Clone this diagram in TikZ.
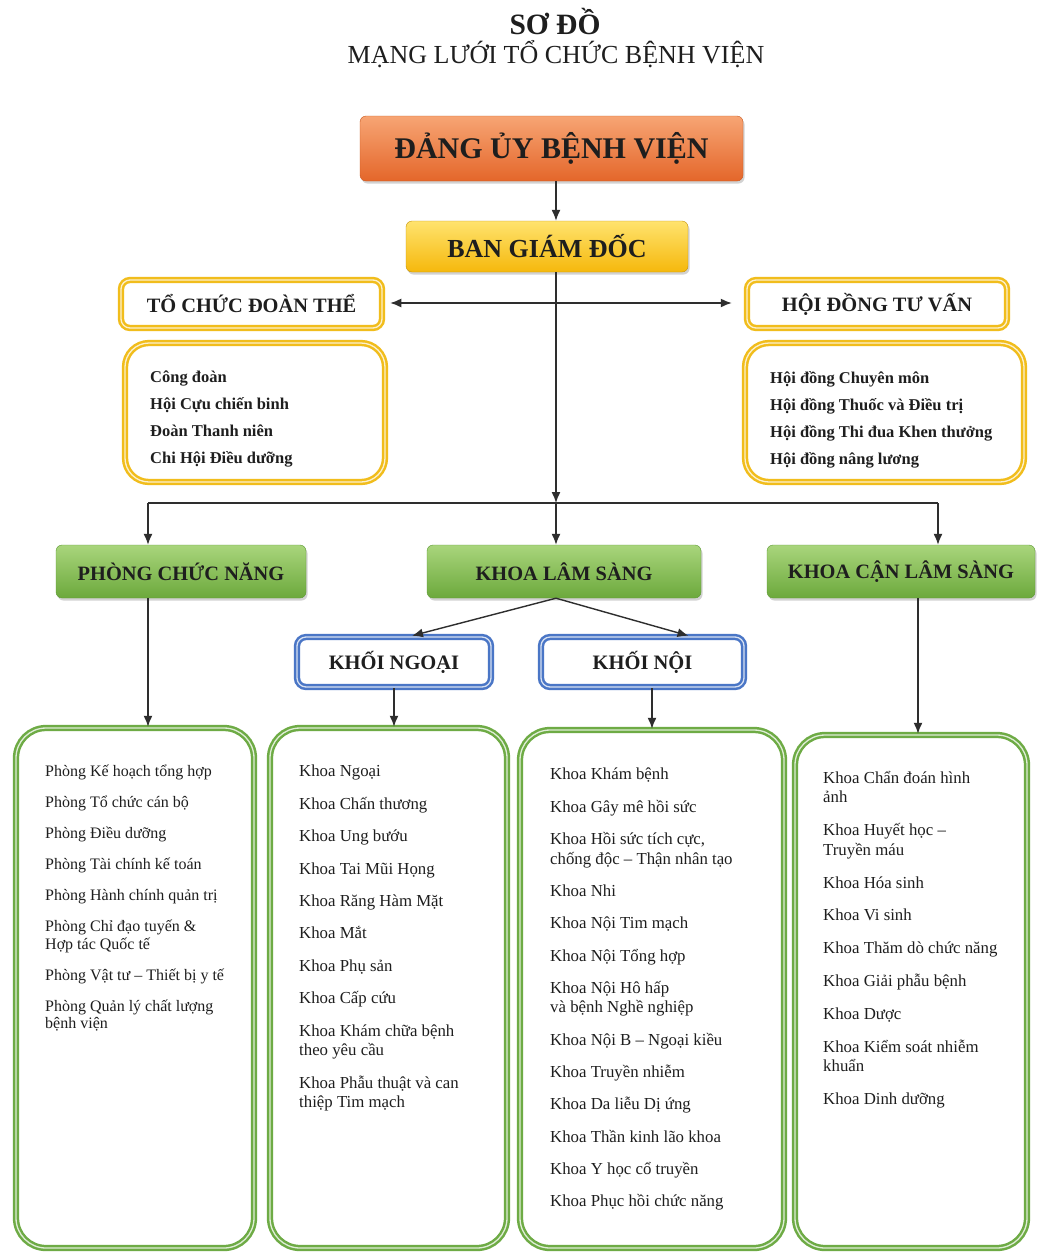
\documentclass[tikz,border=0pt]{standalone}
\usepackage{fontspec}
\setmainfont{Liberation Serif}
\usepackage{tikz}
\usetikzlibrary{arrows.meta,calc,positioning,shadows}
\definecolor{orangetop}{HTML}{F7A574}
\definecolor{orangebot}{HTML}{E4662A}
\definecolor{orangeline}{HTML}{C9581F}
\definecolor{goldtop}{HTML}{FFE36E}
\definecolor{goldbot}{HTML}{F5B80C}
\definecolor{goldline}{HTML}{F1BD1C}
\definecolor{greentop}{HTML}{A9D57C}
\definecolor{greenbot}{HTML}{6CA93C}
\definecolor{greenline}{HTML}{5E9A36}
\definecolor{greenring}{HTML}{6EAB45}
\definecolor{bluering}{HTML}{4A76C6}
\definecolor{ink}{HTML}{1E1E1E}
\definecolor{wire}{HTML}{2E2E2E}
\setlength{\lineskiplimit}{-20pt}

\tikzset{
  box/.style={rounded corners=6pt, align=center, inner sep=0pt, text=ink},
  shadowed/.style={drop shadow={opacity=0.35,shadow xshift=1.5pt,shadow yshift=-2.5pt}},
  partybox/.style={box, shadowed, draw=orangeline, top color=orangetop, bottom color=orangebot,
    font=\bfseries\fontsize{30}{32}\selectfont},
  boardbox/.style={box, shadowed, draw=goldbot!80!black, top color=goldtop, bottom color=goldbot,
    font=\bfseries\fontsize{26}{28}\selectfont},
  greenbox/.style={box, shadowed, draw=greenline, top color=greentop, bottom color=greenbot,
    font=\bfseries\fontsize{20.4}{22}\selectfont},
  ring/.style={box, fill=white, draw=#1, line width=2.5pt, double=#1!22!white, double distance=1.3pt},
  goldhead/.style={ring=goldline, rounded corners=9pt, font=\bfseries\fontsize{20.4}{22}\selectfont},
  goldlist/.style={ring=goldline, rounded corners=24pt},
  bluehead/.style={ring=bluering, rounded corners=9pt, font=\bfseries\fontsize{20.5}{22}\selectfont},
  greenlist/.style={ring=greenring, rounded corners=30pt},
  % first baseline sits 16pt below the anchor
  listtext/.style={anchor=north west, inner sep=0pt, align=left, text=ink,
    execute at begin node=\rule{0pt}{16pt}, font=\fontsize{16.8}{19.6}\selectfont},
  boldlist/.style={anchor=north west, inner sep=0pt, align=left, text=ink,
    execute at begin node=\rule{0pt}{16pt}, font=\bfseries\fontsize{16.5}{27}\selectfont},
  arr/.style={draw=wire, line width=1.4pt, -{Latex[length=11pt,width=9pt]}},
  wireline/.style={draw=wire, line width=1.4pt}
}

\begin{document}
\begin{tikzpicture}[x=1pt,y=-1pt]
  \useasboundingbox[fill=white] (0,0) rectangle (1037,1254);

  % title
  \node[text=ink, font=\bfseries\fontsize{29.5}{31}\selectfont] (title) at (555,22) {SƠ ĐỒ};
  \node[text=ink, font=\fontsize{26}{28}\selectfont] (subtitle) at (556,54) {MẠNG LƯỚI TỔ CHỨC BỆNH VIỆN};

  % top levels
  \node[partybox, minimum width=383, minimum height=65] (party) at (551.5,148.5) {ĐẢNG ỦY BỆNH VIỆN};
  \node[boardbox, minimum width=282, minimum height=51] (bgd) at (547,246.5) {BAN GIÁM ĐỐC};

  % unions and councils
  \node[goldhead, minimum width=261, minimum height=48] (tcdt) at (251.5,304) {TỔ CHỨC ĐOÀN THỂ};
  \node[goldhead, minimum width=260, minimum height=48] (hdtv) at (877,304) {HỘI ĐỒNG TƯ VẤN};
  \node[goldlist, minimum width=260, minimum height=139] (tcdtlist) at (255,412.5) {};
  \node[goldlist, minimum width=279, minimum height=139] (hdtvlist) at (884.5,412.5) {};
  \node[boldlist] (tcdttext) at (150,371) {Công đoàn\\Hội Cựu chiến binh\\Đoàn Thanh niên\\Chi Hội Điều dưỡng};
  \node[boldlist] (hdtvtext) at (770,371) {Hội đồng Chuyên môn\\Hội đồng Thuốc và Điều trị\\Hội đồng Thi đua Khen thưởng\\Hội đồng nâng lương};

  % blocks
  \node[greenbox, minimum width=250, minimum height=53] (pcn) at (181,571.5) {PHÒNG CHỨC NĂNG};
  \node[greenbox, minimum width=274, minimum height=53] (kls) at (564,571.5) {KHOA LÂM SÀNG};
  \node[greenbox, minimum width=268, minimum height=53] (kcls) at (901,571.5) {KHOA CẬN LÂM SÀNG};
  \node[bluehead, minimum width=194, minimum height=50] (kngoai) at (394,662) {KHỐI NGOẠI};
  \node[bluehead, minimum width=203, minimum height=50] (knoi) at (642.5,662) {KHỐI NỘI};

  % department lists
  \node[greenlist, minimum width=238, minimum height=520] (list1) at (135,988) {};
  \node[greenlist, minimum width=237, minimum height=520] (list2) at (388.5,988) {};
  \node[greenlist, minimum width=264, minimum height=518] (list3) at (652,989) {};
  \node[greenlist, minimum width=232, minimum height=513] (list4) at (911,991.5) {};

  \node[listtext, font=\fontsize{16}{17.5}\selectfont] (text1) at (45,765) {Phòng Kế hoạch tổng hợp\\[13.5pt]Phòng Tổ chức cán bộ\\[13.5pt]Phòng Điều dưỡng\\[13.5pt]Phòng Tài chính kế toán\\[13.5pt]Phòng Hành chính quản trị\\[13.5pt]Phòng Chỉ đạo tuyến \&\\Hợp tác Quốc tế\\[13.5pt]Phòng Vật tư – Thiết bị y tế\\[13.5pt]Phòng Quản lý chất lượng\\bệnh viện};
  \node[listtext] (text2) at (299,765) {Khoa Ngoại\\[12.8pt]Khoa Chấn thương\\[12.8pt]Khoa Ung bướu\\[12.8pt]Khoa Tai Mũi Họng\\[12.8pt]Khoa Răng Hàm Mặt\\[12.8pt]Khoa Mắt\\[12.8pt]Khoa Phụ sản\\[12.8pt]Khoa Cấp cứu\\[12.8pt]Khoa Khám chữa bệnh\\theo yêu cầu\\[12.8pt]Khoa Phẫu thuật và can\\thiệp Tim mạch};
  \node[listtext] (text3) at (550,768) {Khoa Khám bệnh\\[12.7pt]Khoa Gây mê hồi sức\\[12.7pt]Khoa Hồi sức tích cực,\\chống độc – Thận nhân tạo\\[12.7pt]Khoa Nhi\\[12.7pt]Khoa Nội Tim mạch\\[12.7pt]Khoa Nội Tổng hợp\\[12.7pt]Khoa Nội Hô hấp\\và bệnh Nghề nghiệp\\[12.7pt]Khoa Nội B – Ngoại kiều\\[12.7pt]Khoa Truyền nhiễm\\[12.7pt]Khoa Da liễu Dị ứng\\[12.7pt]Khoa Thần kinh lão khoa\\[12.7pt]Khoa Y học cổ truyền\\[12.7pt]Khoa Phục hồi chức năng};
  \node[listtext] (text4) at (823,771) {Khoa Chẩn đoán hình\\ảnh\\[13.2pt]Khoa Huyết học –\\Truyền máu\\[13.2pt]Khoa Hóa sinh\\[13.2pt]Khoa Vi sinh\\[13.2pt]Khoa Thăm dò chức năng\\[13.2pt]Khoa Giải phẫu bệnh\\[13.2pt]Khoa Dược\\[13.2pt]Khoa Kiểm soát nhiễm\\khuẩn\\[13.2pt]Khoa Dinh dưỡng};

  % connectors
  \coordinate (bus) at (556,503);
  \coordinate (side) at (556,303);
  \coordinate (busL) at (148,503);
  \coordinate (busR) at (938,503);
  \coordinate (kclsdown) at (918,598);
  \draw[arr] (party.south -| bus) -- (bgd.north -| bus);
  \draw[arr] (bgd.south -| bus) -- (bus);
  \draw[arr, shorten >=7pt] (side) -- (tcdt.east |- side);
  \draw[arr, shorten >=14pt] (side) -- (hdtv.west |- side);
  \draw[wireline] (busL) -- (busR);
  \draw[arr] (busL) -- (busL |- pcn.north);
  \draw[arr] (bus) -- (bus |- kls.north);
  \draw[arr] (busR) -- (busR |- kcls.north);
  \draw[arr] (kls.south -| bus) -- ($(kngoai.north)+(18,0)$);
  \draw[arr] (kls.south -| bus) -- ($(knoi.north)+(46,0)$);
  \draw[arr] (busL |- pcn.south) -- (busL |- list1.north);
  \draw[arr] (kngoai.south) -- (kngoai.south |- list2.north);
  \draw[arr] (list3.north |- knoi.south) -- (list3.north);
  \draw[arr] (kcls.south -| kclsdown) -- (list4.north -| kclsdown);
\end{tikzpicture}
\end{document}
